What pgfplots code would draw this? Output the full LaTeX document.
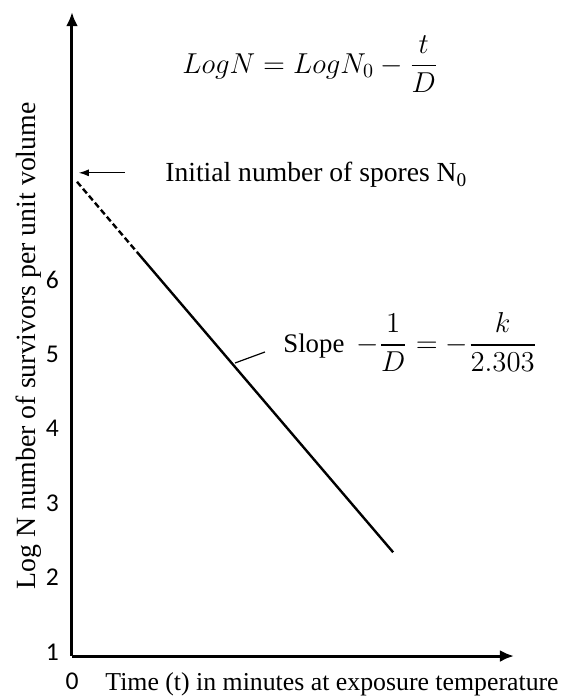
\documentclass[border=0pt]{standalone}
\usepackage{amsmath}
\usepackage{fontspec}
\setmainfont{Liberation Serif}
\newfontfamily\calib{Carlito}
\usepackage{pgfplots}
\pgfplotsset{compat=1.18}
\usetikzlibrary{arrows.meta}

\begin{document}
\begin{tikzpicture}
\begin{axis}[
    scale only axis, width=221pt, height=322pt,
    xmin=0, xmax=11.05, ymin=0.946, ymax=9.60,
    axis lines=left,
    axis line style={line width=1.5pt},
    x axis line style={-{Latex[length=7pt,width=6pt]}},
    y axis line style={-{Latex[length=7pt,width=6pt]}},
    xtick={0}, ytick={1,2,3,4,5,6},
    major tick length=0pt,
    /pgf/number format/assume math mode=true,
    tick label style={font=\calib\fontsize{12.8}{15}\selectfont},
    yticklabel style={xshift=-3pt},
    xticklabel style={yshift=-5pt},
    xlabel={Time (t) in minutes at exposure temperature},
    xlabel style={at={(rel axis cs:0.0747,-0.0543)}, anchor=base west, inner sep=0pt,
        font=\fontsize{12.9}{15}\selectfont},
    ylabel={Log N number of survivors per unit volume},
    ylabel style={at={(rel axis cs:-0.0837,0.1025)}, anchor=base west, inner sep=0pt,
        font=\fontsize{13.9}{16}\selectfont},
    clip=false,
]
% dashed extrapolation back to N0, then the measured survivor line
\addplot[black, line width=1.2pt, dash pattern=on 3pt off 1.6pt] coordinates {(0.125,7.32) (1.625,6.375)};
\addplot[black, line width=1.2pt] coordinates {(1.625,6.375) (8.03,2.34)};

\node[anchor=base west, inner sep=0pt, font=\fontsize{13.6}{16}\selectfont]
    at (axis cs:2.75,8.78) {$LogN = LogN_0 - \dfrac{t}{D}$};

\draw[-{Latex[length=5pt,width=3.5pt]}, line width=0.6pt] (axis cs:1.325,7.44) -- (axis cs:0.17,7.44);
\node[anchor=base west, inner sep=0pt, font=\fontsize{13.8}{16}\selectfont]
    at (axis cs:2.325,7.317) {Initial number of spores N\textsubscript{0}};

\draw[line width=0.6pt] (axis cs:4.075,4.884) -- (axis cs:4.825,5.032);
\node[anchor=base west, inner sep=0pt, font=\fontsize{13.4}{16}\selectfont]
    at (axis cs:5.275,5.03) {Slope\hspace{6pt}$-\dfrac{1}{D} = -\dfrac{k}{2.303}$};

\path (rel axis cs:-0.1629,-0.0652) rectangle (rel axis cs:1.138,1.0188);
\end{axis}
\end{tikzpicture}
\end{document}
